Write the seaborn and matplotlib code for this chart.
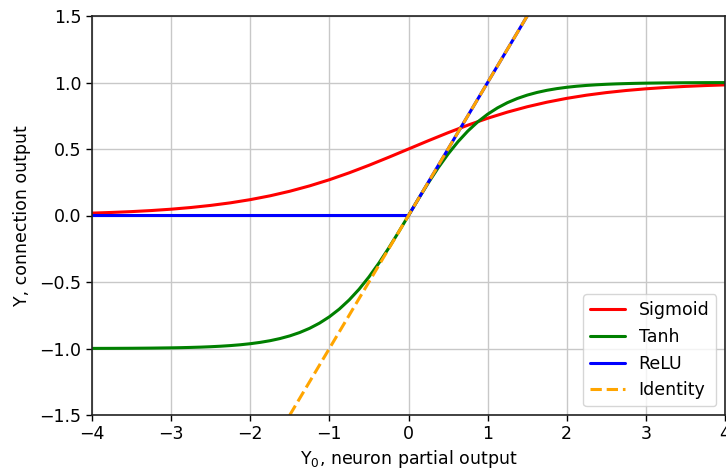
import matplotlib
matplotlib.use("Agg")
import matplotlib.pyplot as plt
from matplotlib.lines import Line2D
import seaborn as sns

# Sigmoid samples (step 0.25 from -4 to 4)
sig_x = [-4.0, -3.75, -3.5, -3.25, -3.0, -2.75, -2.5, -2.25, -2.0, -1.75, -1.5, -1.25,
         -1.0, -0.75, -0.5, -0.25, 0.0, 0.25, 0.5, 0.75, 1.0, 1.25, 1.5, 1.75,
         2.0, 2.25, 2.5, 2.75, 3.0, 3.25, 3.5, 3.75, 4.0]
sigmoid_vals = [0.0180, 0.0230, 0.0293, 0.0373, 0.0474, 0.0601, 0.0759, 0.0953, 0.1192,
                0.1480, 0.1824, 0.2227, 0.2689, 0.3208, 0.3775, 0.4378, 0.5000, 0.5622,
                0.6225, 0.6792, 0.7311, 0.7773, 0.8176, 0.8520, 0.8808, 0.9047, 0.9241,
                0.9399, 0.9526, 0.9627, 0.9707, 0.9770, 0.9820]

# Tanh samples (denser near the bend)
tanh_x = [-4.0, -3.75, -3.5, -3.25, -3.0, -2.875, -2.75, -2.625, -2.5, -2.375, -2.25, -2.125,
          -2.0, -1.875, -1.75, -1.625, -1.5, -1.375, -1.25, -1.125, -1.0, -0.875,
          -0.75, -0.625, -0.5, -0.375, -0.25, -0.125, 0.0, 0.125, 0.25, 0.375, 0.5,
          0.625, 0.75, 0.875, 1.0, 1.125, 1.25, 1.375, 1.5, 1.625, 1.75, 1.875,
          2.0, 2.125, 2.25, 2.375, 2.5, 2.625, 2.75, 2.875, 3.0, 3.25, 3.5, 3.75, 4.0]
tanh_vals = [-0.9993, -0.9989, -0.9982, -0.9970, -0.9951, -0.9937, -0.9918, -0.9896, -0.9866,
             -0.9828, -0.9780, -0.9719, -0.9640, -0.9540, -0.9414, -0.9253, -0.9051,
             -0.8798, -0.8483, -0.8093, -0.7616, -0.7039, -0.6351, -0.5546, -0.4621,
             -0.3584, -0.2449, -0.1244, 0.0, 0.1244, 0.2449, 0.3584, 0.4621, 0.5546,
             0.6351, 0.7039, 0.7616, 0.8093, 0.8483, 0.8798, 0.9051, 0.9253, 0.9414,
             0.9540, 0.9640, 0.9719, 0.9780, 0.9828, 0.9866, 0.9896, 0.9918, 0.9937,
             0.9951, 0.9970, 0.9982, 0.9989, 0.9993]

relu_x = [-4.0, 0.0, 4.0]
relu_vals = [0.0, 0.0, 4.0]

identity_x = [-4.0, 4.0]
identity_vals = [-4.0, 4.0]

series_names = ["Sigmoid", "Tanh", "ReLU", "Identity"]
series_colors = ["red", "green", "blue", "orange"]
series_styles = ["-", "-", "-", "--"]

x_ticks = [-4, -3, -2, -1, 0, 1, 2, 3, 4]
y_ticks = [-1.5, -1.0, -0.5, 0.0, 0.5, 1.0, 1.5]

sns.set_style("ticks")
plt.rcParams['font.family'] = ['DejaVu Sans']
plt.rcParams['text.color'] = 'black'
plt.rcParams['axes.labelcolor'] = 'black'
plt.rcParams['xtick.color'] = 'black'
plt.rcParams['ytick.color'] = 'black'

fig = plt.figure(figsize=(7.26, 4.70), dpi=100)
ax = fig.add_axes([92/726, 1 - 415/470, 633/726, 399/470])

lw = 2.2
fs = 12.5
sns.lineplot(x=sig_x, y=sigmoid_vals, color=series_colors[0], ax=ax, linewidth=lw)
sns.lineplot(x=tanh_x, y=tanh_vals, color=series_colors[1], ax=ax, linewidth=lw)
sns.lineplot(x=relu_x, y=relu_vals, color=series_colors[2], ax=ax, linewidth=lw)
sns.lineplot(x=identity_x, y=identity_vals, color=series_colors[3], ax=ax,
             linewidth=lw, linestyle='--')

ax.set_xlim(-4, 4)
ax.set_ylim(-1.5, 1.5)
ax.set_xticks(x_ticks)
ax.set_yticks(y_ticks)
ax.set_xticklabels([f"{t}".replace("-", "\u2212") for t in x_ticks])
ax.set_yticklabels([f"{t:.1f}".replace("-", "\u2212") for t in y_ticks])
ax.tick_params(labelsize=fs, length=4, width=1, color='black', labelcolor='black')
ax.grid(True, color='#c8c8c8', linewidth=1)
ax.set_axisbelow(True)
for s in ax.spines.values():
    s.set_color('#222222')
    s.set_linewidth(1.2)

ax.set_xlabel("Y$_0$, neuron partial output", fontsize=fs, labelpad=3, color='black')
ax.set_ylabel("Y, connection output", fontsize=fs, labelpad=6, color='black')

handles = [Line2D([0], [0], color=c, linestyle=st, linewidth=lw)
           for c, st in zip(series_colors, series_styles)]
leg = ax.legend(handles, series_names, loc='lower right', fontsize=fs, frameon=True,
                fancybox=True, framealpha=0.8, edgecolor='#cccccc', handlelength=2.0)
for t in leg.get_texts():
    t.set_color('black')

fig.savefig("out.png", dpi=100)
